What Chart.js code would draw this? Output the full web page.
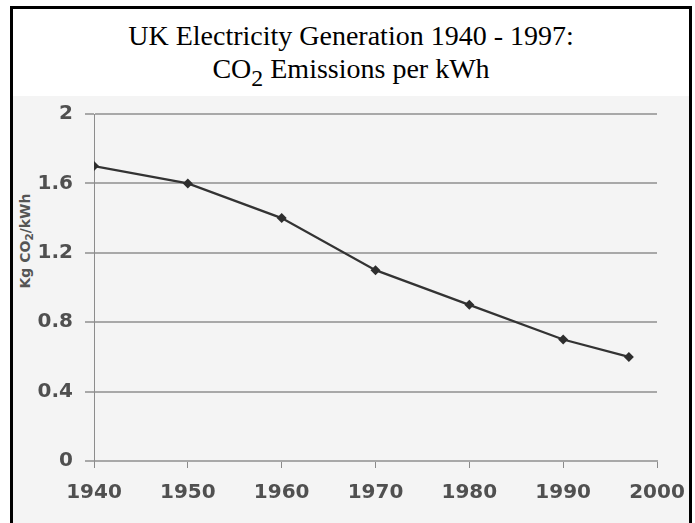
<!DOCTYPE html>
<html>
<head>
<meta charset="utf-8">
<script src="https://cdn.jsdelivr.net/npm/chart.js@4/dist/chart.umd.min.js"></script>
<style>
  html, body { margin: 0; padding: 0; background: #fff; }
  body { width: 695px; height: 523px; position: relative; overflow: hidden; }
  #frame {
    position: absolute; left: 10px; top: 6px; width: 676px; height: 530px;
    border: 3px solid #000; background: #fff;
  }
  #title {
    position: absolute; left: 0; top: 10px; width: 100%;
    text-align: center; font-family: "Liberation Serif", "Times New Roman", serif;
    font-size: 28px; line-height: 33px; color: #000;
  }
  #title .sub { font-size: 0.85em; position: relative; top: 0.33em; }
  #plot {
    position: absolute; left: 0; top: 87px; width: 676px; height: 443px;
    background: #f4f4f4;
  }
  #ylabel {
    position: absolute; left: 25px; top: 241px; transform: translate(-50%, -50%) rotate(-90deg);
    white-space: nowrap; font-family: "DejaVu Sans", sans-serif; font-weight: bold;
    font-size: 14px; color: #555;
  }
  #ylabel .sub { font-size: 0.75em; position: relative; top: 0.3em; }
  canvas { position: absolute; left: 13px; top: 97px; }
</style>
</head>
<body>
<div id="frame">
  <div id="title">UK Electricity Generation 1940 - 1997:<br>CO<span class="sub">2</span> Emissions per kWh</div>
  <div id="plot"></div>
</div>
<div id="ylabel">Kg CO<span class="sub">2</span>/kWh</div>
<canvas id="c" width="676" height="426"></canvas>
<script>
// Carbon intensity of UK power generation, kg CO2 per kWh
const years = [1940, 1950, 1960, 1970, 1980, 1990, 1997];
const emissions = [1.7, 1.6, 1.4, 1.1, 0.9, 0.7, 0.6];

// Axis ticks
const xTickValues = [1940, 1950, 1960, 1970, 1980, 1990, 2000];
const xTickLabels = ['1940', '1950', '1960', '1970', '1980', '1990', '2000'];
const yTickValues = [0, 0.4, 0.8, 1.2, 1.6, 2];
const yTickLabels = ['0', '0.4', '0.8', '1.2', '1.6', '2'];

const points = years.map((yr, i) => ({ x: yr, y: emissions[i] }));
const tickFont = { family: '"DejaVu Sans", sans-serif', size: 20, weight: 'bold' };

// Fixed axis sizes; edge labels may overhang into the layout padding
function noEdgePadding(s) {
  s.paddingTop = 0; s.paddingBottom = 0; s.paddingLeft = 0; s.paddingRight = 0;
}

new Chart(document.getElementById('c'), {
  type: 'line',
  data: {
    datasets: [{
      data: points,
      borderColor: '#333',
      borderWidth: 2.2,
      backgroundColor: '#2e2e2e',
      pointStyle: 'rectRot',
      pointRadius: 5,
      pointBorderWidth: 0,
      tension: 0
    }]
  },
  options: {
    responsive: false,
    animation: false,
    layout: { padding: { top: 17, right: 32, left: 0, bottom: 0 } },
    plugins: { legend: { display: false }, tooltip: { enabled: false } },
    scales: {
      x: {
        type: 'linear',
        min: 1940, max: 2000,
        afterBuildTicks: s => { s.ticks = xTickValues.map(v => ({ value: v })); },
        afterFit: s => { s.height = 62; noEdgePadding(s); },
        grid: { drawOnChartArea: false, drawTicks: true, tickLength: 7, color: '#8a8a8a', lineWidth: 1 },
        border: { display: true, color: '#a8a8a8', width: 2 },
        ticks: {
          padding: 13, color: '#505050', font: tickFont, maxRotation: 0,
          callback: v => xTickLabels[xTickValues.indexOf(v)]
        }
      },
      y: {
        min: 0, max: 2,
        afterBuildTicks: s => { s.ticks = yTickValues.map(v => ({ value: v })); },
        afterFit: s => { s.width = 81; noEdgePadding(s); },
        grid: { color: '#a8a8a8', lineWidth: 2, tickLength: 9, drawTicks: true },
        border: { display: true, color: '#8c8c8c', width: 1 },
        ticks: {
          padding: 12, color: '#505050', font: tickFont,
          callback: v => yTickLabels[yTickValues.indexOf(v)]
        }
      }
    }
  }
});
</script>
</body>
</html>
